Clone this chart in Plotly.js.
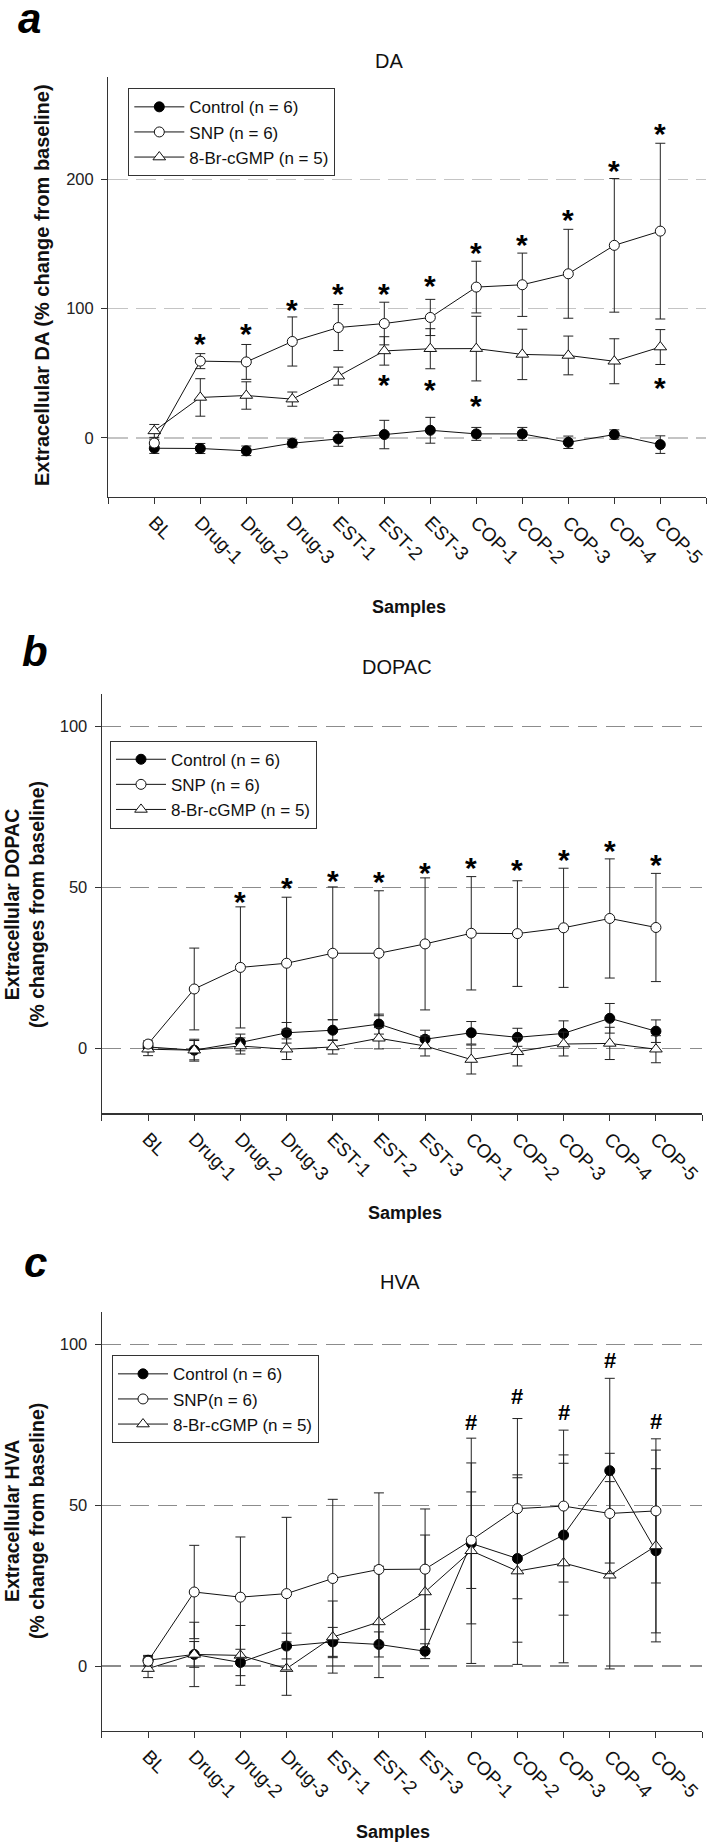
<!DOCTYPE html>
<html>
<head>
<meta charset="utf-8">
<script src="https://cdn.plot.ly/plotly-3.0.1.min.js"></script>
<style>
  html, body { margin: 0; padding: 0; background: #fff; }
  #graph-container { width: 710px; height: 1845px; }
</style>
</head>
<body>
<div id="graph-container"></div>
<script>
// sample labels shared by the three panels
const categories = ['BL', 'Drug-1', 'Drug-2', 'Drug-3', 'EST-1', 'EST-2', 'EST-3',
    'COP-1', 'COP-2', 'COP-3', 'COP-4', 'COP-5'];

// a: DA
const daControl = [-8, -8.2, -10, -4.1, -0.8, 2.6, 5.9, 3.1, 3.1, -3.4, 2.6, -5.2];
const daControlErr = [4, 3.9, 3.7, 3, 5.7, 11, 10, 5, 5, 4.8, 3.6, 6.8];
const daSnp = [-4, 59.4, 58.8, 74.6, 85.4, 88.5, 93.2, 116.7, 118.5, 127, 149, 160];
const daSnpErr = [3, 5.8, 13.5, 19, 17.8, 16.5, 14, 20, 24.5, 34.4, 51.7, 68];
const daCgmp = [5.4, 31.3, 32.8, 30, 47.8, 67.3, 69, 69.1, 64.6, 63.8, 59.3, 70.3];
const daCgmpErr = [5, 14.5, 10.6, 5.5, 7, 11, 15.5, 25, 19.5, 15, 17.4, 13.5];
const daStarsTop = [null, 78.7, 85.9, 104.8, 116.9, 116.9, 123.3, 148.9, 155.4, 174.7, 212.4, 240.7];
const daStarsLow = [null, null, null, null, null, 46.4, 43, 30.8, null, null, null, 44.4];

// b: DOPAC
const dopacControl = [0.5, -0.5, 1.9, 4.9, 5.7, 7.6, 2.9, 4.9, 3.5, 4.7, 9.4, 5.4];
const dopacControlErr = [1, 3, 2.6, 3.2, 3.2, 3.1, 2.8, 3.5, 2.8, 3.9, 4.6, 3.5];
const dopacSnp = [1.4, 18.5, 25.2, 26.5, 29.6, 29.6, 32.5, 35.8, 35.7, 37.5, 40.4, 37.6];
const dopacSnpErr = [1, 12.7, 18.8, 20.5, 20.6, 19.4, 20.5, 17.6, 16.4, 18.5, 18.5, 16.8];
const dopacCgmp = [-0.2, -0.5, 0.8, -0.2, 0.5, 3.2, 0.8, -3.4, -1, 1.4, 1.6, -0.2];
const dopacCgmpErr = [2, 3.4, 2.5, 3.2, 2.2, 3.3, 3.1, 4.5, 4.4, 3.7, 5, 4.2];
const dopacStars = [null, null, 47.7, 52.1, 54.4, 53.9, 56.7, 58.3, 57.8, 60.9, 63.7, 59.4];

// c: HVA
const hvaControl = [1.8, 3.6, 1.1, 6.2, 7.5, 6.7, 4.6, 38.1, 33.4, 40.7, 60.7, 35.8];
const hvaControlErr = [1.5, 4, 4.1, 4, 4.5, 3.9, 2.3, 25, 26, 24.9, 28.7, 25.5];
const hvaSnp = [1.5, 23, 21.4, 22.5, 27.2, 30, 30.1, 39.1, 48.9, 49.7, 47.4, 48.2];
const hvaSnpErr = [1.5, 14.5, 18.7, 23.7, 24.6, 23.8, 18.7, 15, 28, 23.6, 18.7, 22.4];
const hvaCgmp = [-0.8, 3.6, 3.3, -0.8, 9, 13.7, 23, 35.8, 29.5, 32, 28.2, 37.3];
const hvaCgmpErr = [2.8, 10, 9.3, 8.3, 11.2, 17.3, 17.7, 35, 29, 31, 29.1, 29.8];
const hvaHash = [null, null, null, null, null, null, null, 75.9, 84.2, 79, 95.4, 76.4];

const W = 710, H = 1845;
const px = v => v / W;
const py = v => 1 - v / H;
const FONT = 'Liberation Sans, Arial, sans-serif';

const xIdx = categories.map((c, i) => i);
const tickVals = [-1, ...xIdx, categories.length];
const tickText = ['', ...categories, ''];

const panels = [
    {
        letter: 'a', title: 'DA',
        ytitle: 'Extracellular DA (% change from baseline)', ytitleSize: 20,
        xd: [108.3, 706.3], yd: [76.7, 496.7], yrange: [-45.5, 279.5], dtick: 100,
        gridcolor: '#c4c4c4', griddash: '20px,8px',
        letterPos: [16, 18], titlePos: [389, 61], samplesPos: [409, 607], ytitlePos: [42, 285],
        legendPos: [128.3, 88.3],
        snpName: 'SNP (n = 6)',
        control: daControl, controlErr: daControlErr,
        snp: daSnp, snpErr: daSnpErr,
        cgmp: daCgmp, cgmpErr: daCgmpErr,
        marks: [[daStarsTop, '*'], [daStarsLow, '*']]
    },
    {
        letter: 'b', title: 'DOPAC',
        ytitle: 'Extracellular DOPAC<br>(% changes from baseline)', ytitleSize: 19.5,
        xd: [101.9, 702.1], yd: [694, 1113.3], yrange: [-20.1, 110.1], dtick: 50,
        gridcolor: '#8c8c8c', griddash: '19px,9px',
        letterPos: [20, 652], titlePos: [397, 667], samplesPos: [404.5, 1213], ytitlePos: [24, 905],
        legendPos: [110, 740.7],
        snpName: 'SNP (n = 6)',
        control: dopacControl, controlErr: dopacControlErr,
        snp: dopacSnp, snpErr: dopacSnpErr,
        cgmp: dopacCgmp, cgmpErr: dopacCgmpErr,
        marks: [[dopacStars, '*']]
    },
    {
        letter: 'c', title: 'HVA',
        ytitle: 'Extracellular HVA<br>(% change from baseline)', ytitleSize: 19.5,
        xd: [101.9, 702.1], yd: [1311.7, 1730.7], yrange: [-20.1, 110.1], dtick: 50,
        gridcolor: '#8c8c8c', griddash: '19px,9px',
        letterPos: [22, 1262], titlePos: [400, 1282], samplesPos: [393, 1832], ytitlePos: [24, 1521],
        legendPos: [112, 1355.3],
        snpName: 'SNP(n = 6)',
        control: hvaControl, controlErr: hvaControlErr,
        snp: hvaSnp, snpErr: hvaSnpErr,
        cgmp: hvaCgmp, cgmpErr: hvaCgmpErr,
        marks: [[hvaHash, '#']]
    }
];

const traces = [];
const annotations = [];
const layout = {
    width: W,
    height: H,
    margin: { l: 0, r: 0, t: 0, b: 0 },
    paper_bgcolor: 'white',
    plot_bgcolor: 'white',
    font: { family: FONT, color: '#111' },
    showlegend: true,
    annotations: annotations
};

function series(p, i, name, y, err, marker, rank) {
    const n = i === 0 ? '' : String(i + 1);
    return {
        x: xIdx,
        y: y,
        type: 'scatter',
        mode: 'lines+markers',
        name: name,
        xaxis: 'x' + n,
        yaxis: 'y' + n,
        legend: 'legend' + n,
        legendrank: rank,
        cliponaxis: false,
        line: { color: '#111', width: 1 },
        marker: marker,
        error_y: { type: 'data', array: err, visible: true, color: '#222', thickness: 1, width: 5 }
    };
}

panels.forEach((p, i) => {
    const n = i === 0 ? '' : String(i + 1);

    // draw order: control, 8-Br-cGMP, SNP on top; legend order via legendrank
    traces.push(series(p, i, 'Control (n = 6)', p.control, p.controlErr,
        { symbol: 'circle', size: 10, color: '#000', line: { color: '#000', width: 1 } }, 1));
    traces.push(series(p, i, '8-Br-cGMP (n = 5)', p.cgmp, p.cgmpErr,
        { symbol: 'triangle-up', size: 11, color: '#fff', line: { color: '#111', width: 1 } }, 3));
    traces.push(series(p, i, p.snpName, p.snp, p.snpErr,
        { symbol: 'circle', size: 10, color: '#fff', line: { color: '#111', width: 1 } }, 2));

    layout['xaxis' + n] = {
        domain: [px(p.xd[0]), px(p.xd[1])],
        anchor: 'y' + n,
        range: [-1, categories.length],
        tickmode: 'array',
        tickvals: tickVals,
        ticktext: tickText,
        tickangle: 45,
        ticks: 'outside',
        ticklen: 6,
        tickcolor: '#333',
        showline: true,
        linecolor: '#333',
        linewidth: 1.3,
        showgrid: false,
        zeroline: false,
        tickfont: { size: 19, color: '#111' }
    };
    layout['yaxis' + n] = {
        domain: [py(p.yd[1]), py(p.yd[0])],
        anchor: 'x' + n,
        range: p.yrange,
        tick0: 0,
        dtick: p.dtick,
        ticks: 'outside',
        ticklen: 6,
        tickcolor: '#333',
        ticklabelstandoff: 4,
        showline: true,
        linecolor: '#333',
        linewidth: 1.3,
        showgrid: true,
        gridcolor: p.gridcolor,
        griddash: p.griddash,
        gridwidth: 1.2,
        zeroline: false,
        tickfont: { size: 16.5, color: '#222' }
    };
    layout['legend' + n] = {
        x: px(p.legendPos[0]),
        y: py(p.legendPos[1]),
        xanchor: 'left',
        yanchor: 'top',
        bgcolor: 'white',
        bordercolor: '#333',
        borderwidth: 1,
        itemwidth: 50,
        font: { size: 17, color: '#111' },
        traceorder: 'normal'
    };

    // significance marks above / below the points
    p.marks.forEach(([vals, sym]) => {
        vals.forEach((v, k) => {
            if (v === null) return;
            annotations.push({
                text: sym,
                x: k, y: v,
                xref: 'x' + n, yref: 'y' + n,
                showarrow: false,
                font: { size: sym === '*' ? 30 : 22, family: FONT, color: '#000', weight: 'bold' },
                yshift: sym === '*' ? -7 : -1
            });
        });
    });

    annotations.push({
        text: '<b><i>' + p.letter + '</i></b>',
        x: px(p.letterPos[0]), y: py(p.letterPos[1]),
        xref: 'paper', yref: 'paper', xanchor: 'left', yanchor: 'middle',
        showarrow: false, font: { size: 42, family: FONT, color: '#000' }
    });
    annotations.push({
        text: p.title,
        x: px(p.titlePos[0]), y: py(p.titlePos[1]),
        xref: 'paper', yref: 'paper', xanchor: 'center', yanchor: 'middle',
        showarrow: false, font: { size: 20, family: FONT, color: '#111' }
    });
    annotations.push({
        text: '<b>Samples</b>',
        x: px(p.samplesPos[0]), y: py(p.samplesPos[1]),
        xref: 'paper', yref: 'paper', xanchor: 'center', yanchor: 'middle',
        showarrow: false, font: { size: 18, family: FONT, color: '#111' }
    });
    annotations.push({
        text: '<b>' + p.ytitle + '</b>',
        x: px(p.ytitlePos[0]), y: py(p.ytitlePos[1]),
        xref: 'paper', yref: 'paper', xanchor: 'center', yanchor: 'middle',
        textangle: -90,
        showarrow: false, font: { size: p.ytitleSize, family: FONT, color: '#111' }
    });
});

Plotly.newPlot('graph-container', traces, layout, { staticPlot: true });
</script>
</body>
</html>
